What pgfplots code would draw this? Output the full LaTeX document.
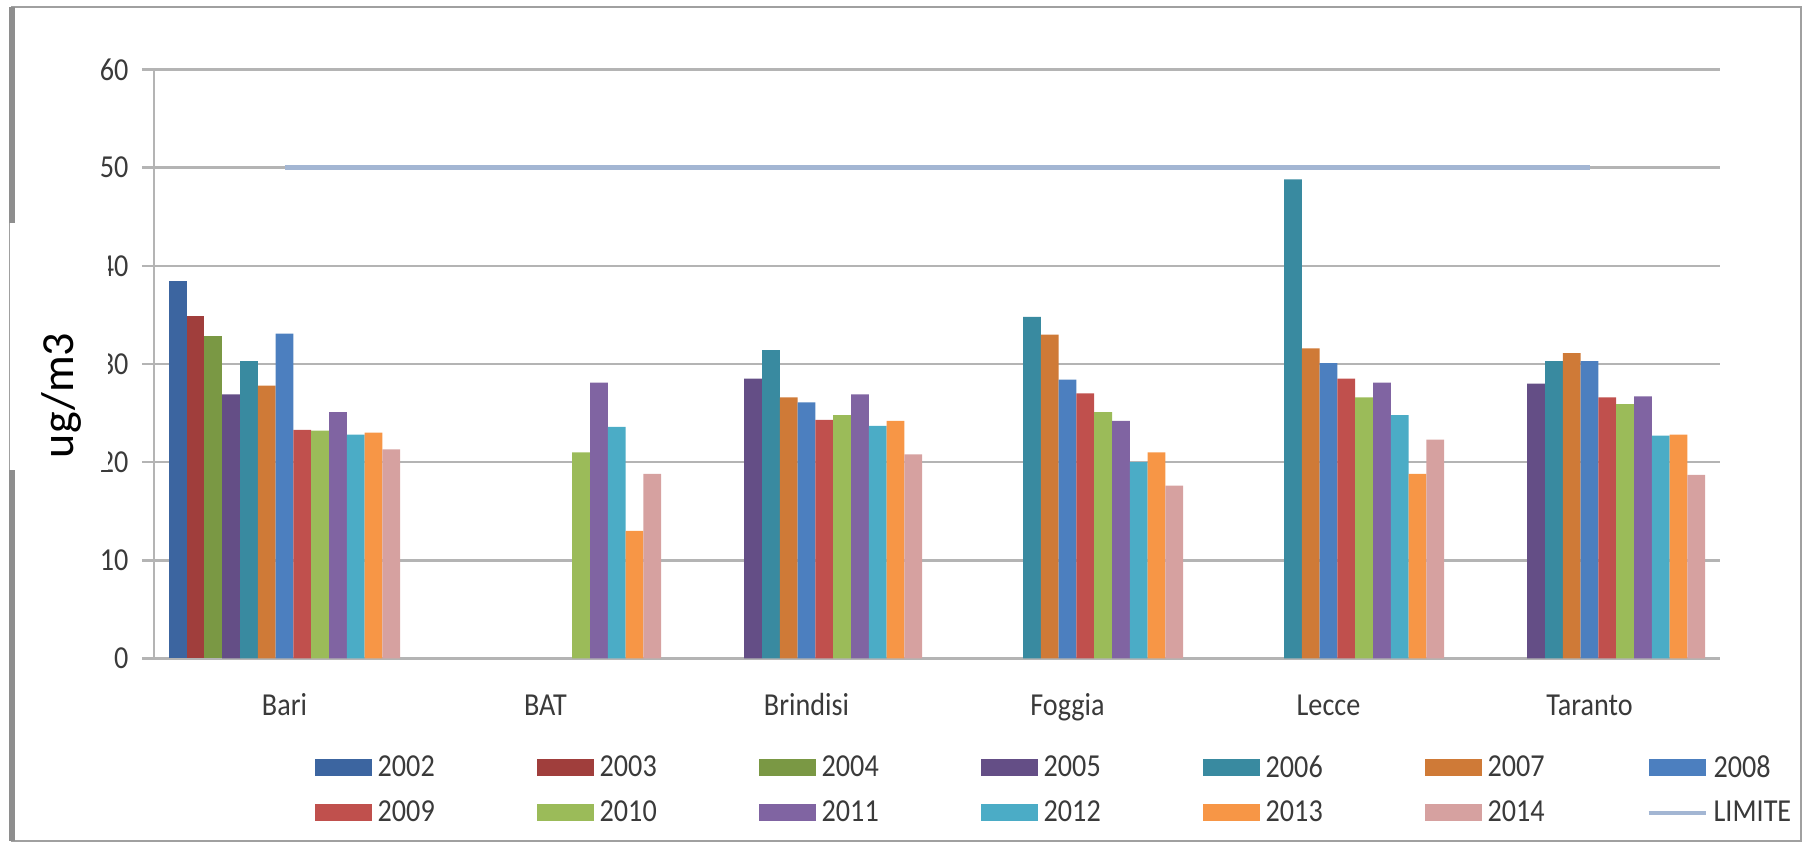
\documentclass[border=0pt]{standalone}
\usepackage{pgfplots}
\pgfplotsset{compat=1.18}
\usepackage{fontspec}
\setmainfont{Carlito}
\newfontfamily\tfont{Carlito}[FakeStretch=0.88]
\newcommand\lfont{\tfont\fontsize{16}{18}\selectfont}

% series colours (2002-2014) and the limit line
\definecolor{c02}{HTML}{3C65A0}
\definecolor{c03}{HTML}{A03E3C}
\definecolor{c04}{HTML}{7A9844}
\definecolor{c05}{HTML}{644E86}
\definecolor{c06}{HTML}{398AA0}
\definecolor{c07}{HTML}{CF7A37}
\definecolor{c08}{HTML}{4C7FBF}
\definecolor{c09}{HTML}{C0504D}
\definecolor{c10}{HTML}{9BBB59}
\definecolor{c11}{HTML}{8064A2}
\definecolor{c12}{HTML}{4BACC6}
\definecolor{c13}{HTML}{F79646}
\definecolor{c14}{HTML}{D6A1A0}
\definecolor{limc}{HTML}{A3B6D3}
\definecolor{txt}{HTML}{3A3A3A}
\definecolor{gridc}{HTML}{B4B4B4}
\definecolor{framec}{HTML}{A0A0A0}
\definecolor{framel}{HTML}{8E8E8E}

\pgfplotsset{
  yr/.style={ybar, bar width=8.9pt, fill=#1, draw=none,
    legend image code/.code={\fill[#1] (0pt,-4.25pt) rectangle (28.5pt,4.25pt);}},
}

\begin{document}
\begin{tikzpicture}
\useasboundingbox (0pt,0pt) rectangle (903pt,422pt);
% outer frame of the chart area
\draw[line width=1.2pt, framec] (6pt,1.5pt) rectangle (900.5pt,418.5pt);
\draw[line width=3pt, framel] (6pt,1.5pt) -- (6pt,418.5pt);

\begin{axis}[
  at={(77pt,92.75pt)}, anchor=south west,
  scale only axis, width=783pt, height=294.5pt,
  xmin=-0.5, xmax=5.5, ymin=0, ymax=60,
  axis lines*=left,
  axis line style={-, gridc, line width=1.2pt},
  xtick={0,1,2,3,4,5},
  xticklabels={Bari,BAT,Brindisi,Foggia,Lecce,Taranto},
  x tick style={draw=none},
  extra x ticks={-0.5,0.5,1.5,2.5,3.5,4.5,5.5},
  extra x tick labels={},
  extra x tick style={major tick length=6pt, tick align=outside,
    tick style={gridc, line width=1pt}},
  ytick={0,10,20,30,40,50,60},
  y tick style={gridc, line width=1.2pt},
  tick align=outside, major tick length=6pt,
  ymajorgrids, grid style={gridc, line width=1.2pt},
  /pgf/number format/assume math mode=true,
  xticklabel style={font=\lfont, text=txt, anchor=base, yshift=-22.5pt},
  yticklabel style={font=\lfont, text=txt, anchor=east, inner sep=0pt, xshift=-6.6pt},
  legend columns=7,
  legend cell align=left,
  legend style={at={(0.1026,-0.1477)}, anchor=north west, draw=none, fill=none,
    inner sep=0pt, outer sep=0pt, font=\lfont, text=txt,
    column sep=0pt, row sep=0pt,
    nodes={inner sep=0pt, text width=42pt, minimum height=22.5pt},
    /tikz/every odd column/.append style={column sep=3pt},
    /tikz/every even column/.append style={column sep=37.5pt}},
]
% categories: 0 Bari, 1 BAT, 2 Brindisi, 3 Foggia, 4 Lecce, 5 Taranto
\addplot[yr=c02, bar shift=-53.4pt] coordinates {(0,38.5)};
\addlegendentry{2002}
\addplot[yr=c03, bar shift=-44.5pt] coordinates {(0,34.9)};
\addlegendentry{2003}
\addplot[yr=c04, bar shift=-35.6pt] coordinates {(0,32.9)};
\addlegendentry{2004}
\addplot[yr=c05, bar shift=-26.7pt] coordinates {(0,26.9) (2,28.5) (5,28.0)};
\addlegendentry{2005}
\addplot[yr=c06, bar shift=-17.8pt] coordinates {(0,30.3) (2,31.4) (3,34.8) (4,48.8) (5,30.3)};
\addlegendentry{2006}
\addplot[yr=c07, bar shift=-8.9pt] coordinates {(0,27.8) (2,26.6) (3,33.0) (4,31.6) (5,31.1)};
\addlegendentry{2007}
\addplot[yr=c08, bar shift=0pt] coordinates {(0,33.1) (2,26.1) (3,28.4) (4,30.1) (5,30.3)};
\addlegendentry{2008}
\addplot[yr=c09, bar shift=8.9pt] coordinates {(0,23.3) (2,24.3) (3,27.0) (4,28.5) (5,26.6)};
\addlegendentry{2009}
\addplot[yr=c10, bar shift=17.8pt] coordinates {(0,23.2) (1,21.0) (2,24.8) (3,25.1) (4,26.6) (5,25.9)};
\addlegendentry{2010}
\addplot[yr=c11, bar shift=26.7pt] coordinates {(0,25.1) (1,28.1) (2,26.9) (3,24.2) (4,28.1) (5,26.7)};
\addlegendentry{2011}
\addplot[yr=c12, bar shift=35.6pt] coordinates {(0,22.8) (1,23.6) (2,23.7) (3,20.0) (4,24.8) (5,22.7)};
\addlegendentry{2012}
\addplot[yr=c13, bar shift=44.5pt] coordinates {(0,23.0) (1,13.0) (2,24.2) (3,21.0) (4,18.8) (5,22.8)};
\addlegendentry{2013}
\addplot[yr=c14, bar shift=53.4pt] coordinates {(0,21.3) (1,18.8) (2,20.8) (3,17.6) (4,22.3) (5,18.7)};
\addlegendentry{2014}
% limit value
\addplot[limc, line width=2.4pt, mark=none,
  legend image code/.code={\draw[limc, line width=2pt] (0pt,0pt) -- (28.5pt,0pt);}]
  coordinates {(0,50) (1,50) (2,50) (3,50) (4,50) (5,50)};
\addlegendentry{LIMITE}
\end{axis}

% panel holding the unit label
\fill[white] (4.4pt,187pt) rectangle (54pt,310.5pt);
\draw[framec, line width=0.6pt] (4.8pt,187pt) -- (4.8pt,310.5pt);
\node[rotate=90, font=\fontsize{23}{23}\selectfont, text=black] at (30.75pt,224.25pt) {ug/m3};
\end{tikzpicture}
\end{document}
